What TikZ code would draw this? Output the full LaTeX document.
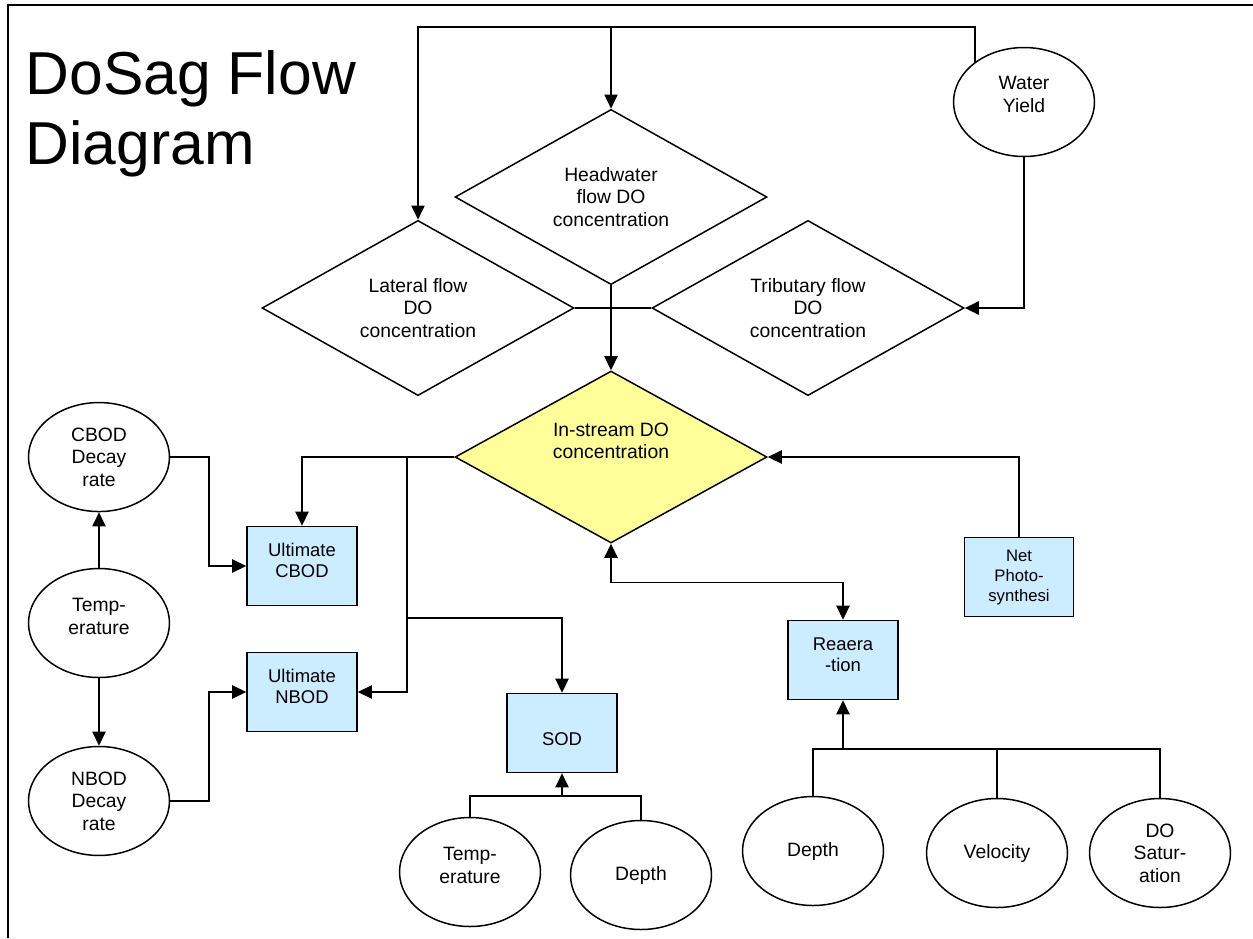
\documentclass[tikz,border=0pt]{standalone}
\usepackage{fontspec}
\setmainfont{Liberation Sans}
\definecolor{boxblue}{HTML}{CCECFF}
\definecolor{paleyellow}{HTML}{FFFF99}
\usetikzlibrary{shapes,arrows.meta,positioning}
\tikzstyle{flow}=[draw,diamond,inner sep=0pt,minimum width=6.24cm,
  minimum height=3.44cm,align=center,font=\fontsize{11}{12.8}\selectfont]
\tikzstyle{input}=[draw,ellipse,inner sep=0pt,minimum width=2.82cm,
  minimum height=2.18cm,align=center,font=\fontsize{11}{12.8}\selectfont]
\tikzstyle{proc}=[draw,fill=boxblue,inner sep=1pt,minimum width=2.2cm,
  minimum height=1.58cm,align=center,font=\fontsize{10.5}{12}\selectfont]
\tikzstyle{link}=[->]

\begin{document}
\begin{tikzpicture}[>={Triangle[length=8pt,width=7.5pt]}, on grid,
    x=0.02cm, y=-0.02cm, line width=0.85pt]
  \useasboundingbox (0,0) rectangle (1253,938);
  \draw (1253,5) -- (8,5) -- (8,938);

  \node[anchor=base west, inner sep=0pt, font=\fontsize{34.5}{40}\selectfont]
    (title1) at (25,94) {DoSag Flow};
  \node[anchor=base west, inner sep=0pt, font=\fontsize{34.5}{40}\selectfont]
    (title2) at (25,164) {Diagram};

  % flow diamonds
  \node[flow]                  (head) at (611,197) {Headwater\\flow DO\\concentration};
  \node[flow]                  (lat)  at (418,308) {Lateral flow\\DO\\concentration};
  \node[flow]                  (trib) at (808,308) {Tributary flow\\DO\\concentration};
  \node[flow, fill=paleyellow] (instream) at (611,457) {};
  \node[font=\fontsize{11}{12.8}\selectfont, align=center]
    (instream-t) at (611,441) {In-stream DO\\concentration};
  \node[input]                 (wy)   at (1024,102) {Water\\Yield\\[-4pt]};

  % left column
  \node[input]                 (temp1)  at (99,623) {Temp-\\erature\\[-5pt]};
  \node[input, above=3.32cm of temp1] (cdecay) {CBOD\\Decay\\rate};
  \node[input, below=3.56cm of temp1] (ndecay) {NBOD\\Decay\\rate};
  \node[proc]                  (ucbod) at (302,566) {Ultimate\\CBOD\\[-6pt]};
  \node[proc, below=2.52cm of ucbod] (unbod) {Ultimate\\NBOD\\[-6pt]};

  % sediment and reaeration
  \node[proc]                  (sod) at (562,733) {\raisebox{-3pt}[8pt][0pt]{SOD}};
  \node[input]                 (temp2)  at (470,872) {Temp-\\erature\\[-5pt]};
  \node[input]                 (depth1) at (641,875) {Depth};
  \node[proc]                  (rea) at (843,660) {Reaera\\-tion\\[-6pt]};
  \node[input]                 (depth2) at (813,851) {Depth};
  \node[input]                 (velo)   at (997,853) {Velocity};
  \node[input]                 (dosat)  at (1160,853) {DO\\Satur-\\ation};
  \node[proc, minimum width=2.18cm, font=\fontsize{9.5}{11.4}\selectfont]
    (net) at (1019,577) {Net\\Photo-\\synthesi};

  \coordinate (topbus) at (975,27);
  \coordinate (split) at (407,457);
  \coordinate (sodbus) at (407,618);
  \coordinate (sodin) at (562,796);
  \coordinate (reain) at (843,749);

  \draw[link] (wy.north west -| topbus) -- (topbus) -| (lat.north);
  \draw[link] (head.north |- topbus) -- (head.north);
  \draw[link] (wy.south) |- (trib.east);
  \draw (lat.east) -- (trib.west);
  \draw[link] (head.south) -- (instream.north);

  \draw[link] (instream.west) -| (ucbod.north);
  \draw[link] (split) |- (unbod.east);
  \draw[link] (sodbus) -| (sod.north);
  \draw[link] (temp1.north) -- (cdecay.south);
  \draw[link] (temp1.south) -- (ndecay.north);
  \draw[link] (cdecay.east) -- ++(39,0) |- (ucbod.west);
  \draw[link] (ndecay.east) -- ++(39,0) |- (unbod.west);

  \draw (temp2.north) |- (sodin) -| (depth1.north);
  \draw[link] (sodin) -- (sod.south);
  \draw (depth2.north) |- (reain) -| (dosat.north);
  \draw (velo.north) -- (velo.north |- reain);
  \draw[link] (reain) -- (rea.south);
  \draw[<->] (instream.south) -- ++(0,39) -| (rea.north);
  \draw[link] (net.north) |- (instream.east);
\end{tikzpicture}
\end{document}
